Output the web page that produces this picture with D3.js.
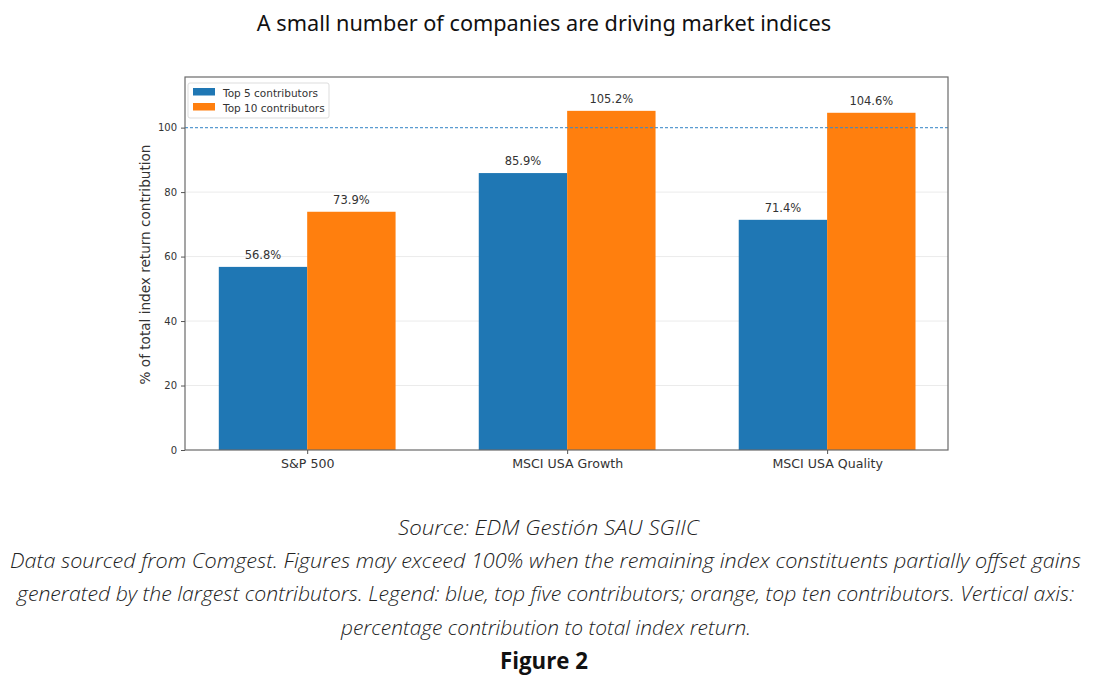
<!DOCTYPE html>
<html><head><meta charset="utf-8">
<script src="https://cdn.jsdelivr.net/npm/d3@7"></script>
<style>body{margin:0;background:#fff;} svg{display:block;}</style>
</head><body>
<svg id="c" width="1097" height="691"></svg>
<script>
const categories = ["S&P 500", "MSCI USA Growth", "MSCI USA Quality"];
const top5 = [56.8, 85.9, 71.4];
const top10 = [73.9, 105.2, 104.6];
const seriesNames = ["Top 5 contributors", "Top 10 contributors"];
const yTicks = [0, 20, 40, 60, 80, 100];
const refLine = 100;
const title = "A small number of companies are driving market indices";
const yLabel = "% of total index return contribution";
const captionLines = [
  "Source: EDM Gestión SAU SGIIC",
  "Data sourced from Comgest. Figures may exceed 100% when the remaining index constituents partially offset gains",
  "generated by the largest contributors. Legend: blue, top five contributors; orange, top ten contributors. Vertical axis:",
  "percentage contribution to total index return."
];
const figLabel = "Figure 2";

const colors = ["#1f77b4", "#ff7f0e"];
const svg = d3.select("#c");
const L = 185, R = 948, T = 77, B = 450;
const barW = 0.34;
const x = d3.scaleLinear().domain([-0.47, 2.465]).range([L, R]);
const y = d3.scaleLinear().domain([0, 115.7]).range([B, T]);

svg.append("text").attr("x", 544).attr("y", 31).attr("text-anchor", "middle")
  .attr("font-family", "Noto Sans").attr("font-size", 21.7).attr("fill", "#111").text(title);

// grid
svg.append("g").selectAll("line").data(yTicks.filter(d => d > 0 && d < 100)).join("line")
  .attr("x1", L).attr("x2", R).attr("y1", d => y(d)).attr("y2", d => y(d))
  .attr("stroke", "#ebebeb").attr("stroke-width", 1);

const series = [top5, top10];
series.forEach((vals, si) => {
  const off = si === 0 ? -barW / 2 : barW / 2;
  svg.append("g").selectAll("rect").data(vals).join("rect")
    .attr("x", (d, i) => x(i + off - barW / 2))
    .attr("width", (d, i) => x(i + off + barW / 2) - x(i + off - barW / 2))
    .attr("y", d => y(d)).attr("height", d => B - y(d))
    .attr("fill", colors[si]);
  svg.append("g").selectAll("text").data(vals).join("text")
    .attr("x", (d, i) => x(i + off)).attr("y", d => y(d) - 8)
    .attr("text-anchor", "middle").attr("font-family", "DejaVu Sans").attr("font-size", 11.5)
    .attr("fill", "#333").text(d => d.toFixed(1) + "%");
});

// reference line
svg.append("line").attr("x1", L).attr("x2", R).attr("y1", y(refLine)).attr("y2", y(refLine))
  .attr("stroke", "#3d8ac8").attr("stroke-opacity", 0.85).attr("stroke-width", 1.1).attr("stroke-dasharray", "3,2");

// frame
svg.append("rect").attr("x", L).attr("y", T).attr("width", R - L).attr("height", B - T)
  .attr("fill", "none").attr("stroke", "#6a6a6a").attr("stroke-width", 1.2);

// axes
const yAxis = svg.append("g").attr("transform", `translate(${L},0)`)
  .call(d3.axisLeft(y).tickValues(yTicks).tickSize(4).tickPadding(4));
yAxis.select(".domain").remove();
yAxis.selectAll("text").attr("font-family", "DejaVu Sans").attr("font-size", 10).attr("fill", "#333");
yAxis.selectAll("line").attr("stroke", "#555");

const xAxis = svg.append("g").attr("transform", `translate(0,${B})`)
  .call(d3.axisBottom(x).tickValues([0, 1, 2]).tickFormat(i => categories[i]).tickSize(4).tickPadding(5));
xAxis.select(".domain").remove();
xAxis.selectAll("text").attr("font-family", "DejaVu Sans").attr("font-size", 12.6).attr("fill", "#333");
xAxis.selectAll("line").attr("stroke", "#555");

svg.append("text").attr("transform", `translate(150,${(T + B) / 2 + 1}) rotate(-90)`)
  .attr("text-anchor", "middle").attr("font-family", "DejaVu Sans").attr("font-size", 13.6)
  .attr("fill", "#333").text(yLabel);

// legend
const lg = svg.append("g").attr("transform", "translate(188,83)");
lg.append("rect").attr("width", 141).attr("height", 35).attr("rx", 2)
  .attr("fill", "#fff").attr("fill-opacity", 0.85).attr("stroke", "#ddd");
seriesNames.forEach((n, i) => {
  lg.append("rect").attr("x", 5).attr("y", 5 + i * 15).attr("width", 22).attr("height", 7.5).attr("fill", colors[i]);
  lg.append("text").attr("x", 35).attr("y", 13.5 + i * 15).attr("font-family", "DejaVu Sans")
    .attr("font-size", 10.5).attr("fill", "#333").text(n);
});

// caption
const capY = [535, 568, 601, 635];
const capX = [[398, 699], [10, 1081], [17, 1074], [341, 751]];
captionLines.forEach((t, i) => {
  svg.append("text").attr("x", capX[i][0]).attr("y", capY[i])
    .attr("textLength", capX[i][1] - capX[i][0]).attr("lengthAdjust", "spacingAndGlyphs")
    .attr("font-family", "Open Sans").attr("font-style", "italic").attr("font-weight", 300)
    .attr("font-size", 21).attr("fill", "#222").text(t);
});
svg.append("text").attr("x", 500).attr("y", 669)
  .attr("textLength", 88).attr("lengthAdjust", "spacingAndGlyphs")
  .attr("font-family", "Open Sans").attr("font-weight", "bold")
  .attr("font-size", 23).attr("fill", "#111").text(figLabel);
</script>
</body></html>
